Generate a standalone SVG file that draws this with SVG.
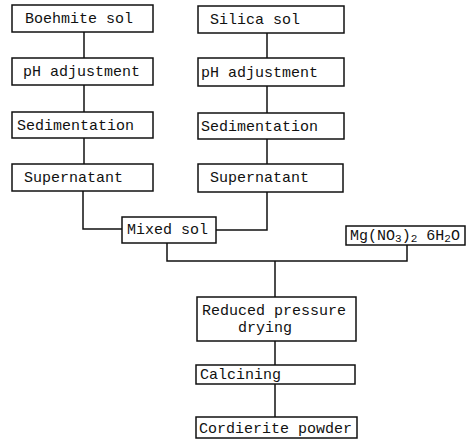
<svg xmlns="http://www.w3.org/2000/svg" width="468" height="444" viewBox="0 0 468 444">
<style>
.box{fill:#fff;stroke:#111;stroke-width:1.5}
.lbl{font-family:"Liberation Mono","DejaVu Sans Mono",monospace;font-size:15px;fill:#111}
.sub{font-size:11px}
.conn{fill:none;stroke:#111;stroke-width:1.5}
</style>
<rect width="468" height="444" fill="#fff"/>
<g id="connectors">
<line class="conn" x1="84" y1="32" x2="84" y2="58"/>
<line class="conn" x1="84" y1="85" x2="84" y2="112"/>
<line class="conn" x1="84" y1="138" x2="84" y2="164"/>
<polyline class="conn" points="83,191 83,229 122,229"/>
<line class="conn" x1="267" y1="33" x2="267" y2="58"/>
<line class="conn" x1="267" y1="86" x2="267" y2="113"/>
<line class="conn" x1="267" y1="139" x2="267" y2="164"/>
<polyline class="conn" points="267,192 267,230 216,230"/>
<polyline class="conn" points="167,243 167,261 407,261 407,245"/>
<line class="conn" x1="275" y1="261" x2="275" y2="297"/>
<line class="conn" x1="275" y1="341" x2="275" y2="365"/>
<line class="conn" x1="275" y1="384" x2="275" y2="417"/>
</g>
<g id="boehmite"><rect class="box" x="12" y="5" width="141" height="27"/><text class="lbl" x="25" y="23">Boehmite sol</text></g>
<g id="ph-left"><rect class="box" x="12" y="58" width="141" height="27"/><text class="lbl" x="23" y="76">pH adjustment</text></g>
<g id="sed-left"><rect class="box" x="12" y="112" width="141" height="26"/><text class="lbl" x="17" y="130">Sedimentation</text></g>
<g id="sup-left"><rect class="box" x="12" y="164" width="141" height="27"/><text class="lbl" x="24" y="182">Supernatant</text></g>
<g id="silica"><rect class="box" x="198" y="6" width="146" height="27"/><text class="lbl" x="210" y="24">Silica sol</text></g>
<g id="ph-right"><rect class="box" x="198" y="58" width="146" height="28"/><text class="lbl" x="201" y="77">pH adjustment</text></g>
<g id="sed-right"><rect class="box" x="198" y="113" width="146" height="26"/><text class="lbl" x="201" y="131">Sedimentation</text></g>
<g id="sup-right"><rect class="box" x="198" y="164" width="145" height="28"/><text class="lbl" x="210" y="182">Supernatant</text></g>
<g id="mixed"><rect class="box" x="122" y="217" width="94" height="26"/><text class="lbl" x="127" y="234">Mixed sol</text></g>
<g id="mg"><rect class="box" x="346" y="226" width="119" height="19"/><text class="lbl" x="350" y="240">Mg(NO<tspan class="sub" dy="2">3</tspan><tspan dy="-2">)</tspan><tspan class="sub" dy="2">2</tspan><tspan dy="-2"> 6H</tspan><tspan class="sub" dy="2">2</tspan><tspan dy="-2">O</tspan></text></g>
<g id="reduced"><rect class="box" x="197" y="297" width="159" height="44"/><text class="lbl" x="202" y="315">Reduced pressure</text><text class="lbl" x="238" y="332">drying</text></g>
<g id="calcining"><rect class="box" x="196" y="365" width="159" height="19"/><text class="lbl" x="200" y="379">Calcining</text></g>
<g id="cordierite"><rect class="box" x="196" y="417" width="161" height="21"/><text class="lbl" x="199" y="433">Cordierite powder</text></g>
</svg>
